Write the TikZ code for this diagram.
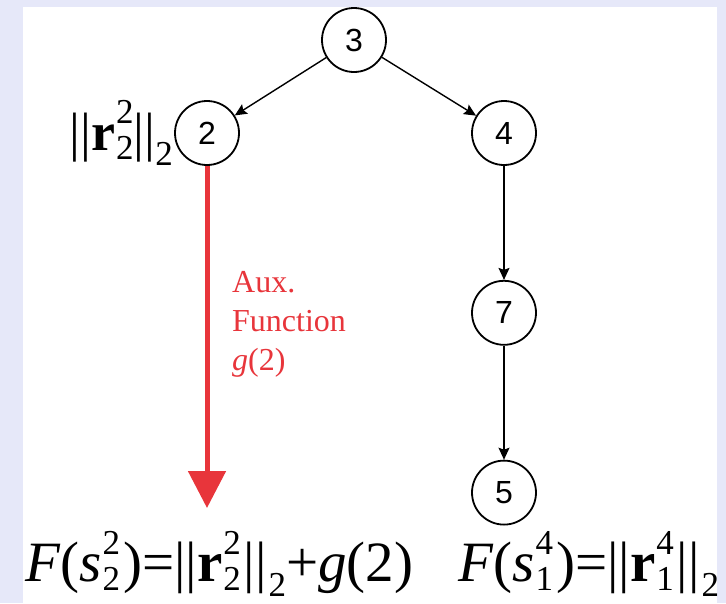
\documentclass[tikz,border=0pt]{standalone}
\usepackage{fontspec}
\setmainfont{Liberation Serif}
\newfontfamily\nodefont{Liberation Sans}
\usetikzlibrary{arrows.meta,positioning}
\definecolor{Frame}{HTML}{E6E8F9}
\definecolor{AuxRed}{HTML}{E8353B}
\newcommand{\scrfont}{\fontsize{35}{35}\selectfont}
\newcommand{\stk}[2]{\kern1pt\rlap{\raisebox{27pt}{\scrfont #1}}\raisebox{-9pt}{\scrfont #2}\kern3pt}
\newcommand{\nsub}[1]{\kern2pt\raisebox{-15pt}{\scrfont #1}}
\tikzset{
  vertex/.style={
    circle, draw=black, line width=1.8pt, fill=white,
    minimum size=64pt, inner sep=0pt,
    font=\nodefont\fontsize{32}{32}\selectfont
  },
  formula/.style={inner sep=0pt, font=\fontsize{57}{60}\selectfont},
  auxnote/.style={
    inner sep=0pt, align=left, text=AuxRed,
    font=\fontsize{32}{39}\selectfont
  },
  flow/.style={-{Stealth[length=12pt,width=11pt,inset=2pt]}, line width=1.4pt, draw=black},
  auxflow/.style={-{Triangle[length=37pt,width=37pt]}, line width=5pt, draw=AuxRed}
}
\begin{document}
\begin{tikzpicture}[x=1pt,y=-1pt,node distance=114pt]
  % frame
  \fill[Frame] (0,0) rectangle (726,603);
  \fill[white] (23,7) rectangle (717,603);
  \useasboundingbox (0,0) rectangle (726,603);

  \node[vertex] (n3) at (354,40) {3};
  \node[vertex] (n2) at (207,133) {2};
  \node[vertex] (n4) at (504,133) {4};
  \node[vertex,below=of n4] (n7) {7};
  \node[vertex,below=of n7] (n5) {5};

  \draw[flow] (n3)--(n2);
  \draw[flow] (n3)--(n4);
  \draw[flow] (n4)--(n7);
  \draw[flow] (n7)--(n5);

  % auxiliary function
  \coordinate (g2end) at (207,508);
  \draw[auxflow] (n2.south)--(g2end);
  \node[auxnote,anchor=north west] (aux) at (232,271) {Aux.\\Function\\\textit{g}(2)};

  \node[formula,anchor=base east,font=\fontsize{54}{58}\selectfont] (r22) at (173,150)
    {||\textbf{r}\stk{2}{2}\kern-3pt||\kern-2pt\nsub{2}};
  \node[formula,anchor=base west] (f2) at (25,581)
    {\textit{F}(\textit{s}\stk{2}{2})=||\textbf{r}\stk{2}{2}||\nsub{2}+\textit{g}(2)};
  \node[formula,anchor=base west] (f5) at (458,581)
    {\textit{F}(\textit{s}\stk{4}{1})=||\textbf{r}\stk{4}{1}||\nsub{2}};
\end{tikzpicture}
\end{document}
